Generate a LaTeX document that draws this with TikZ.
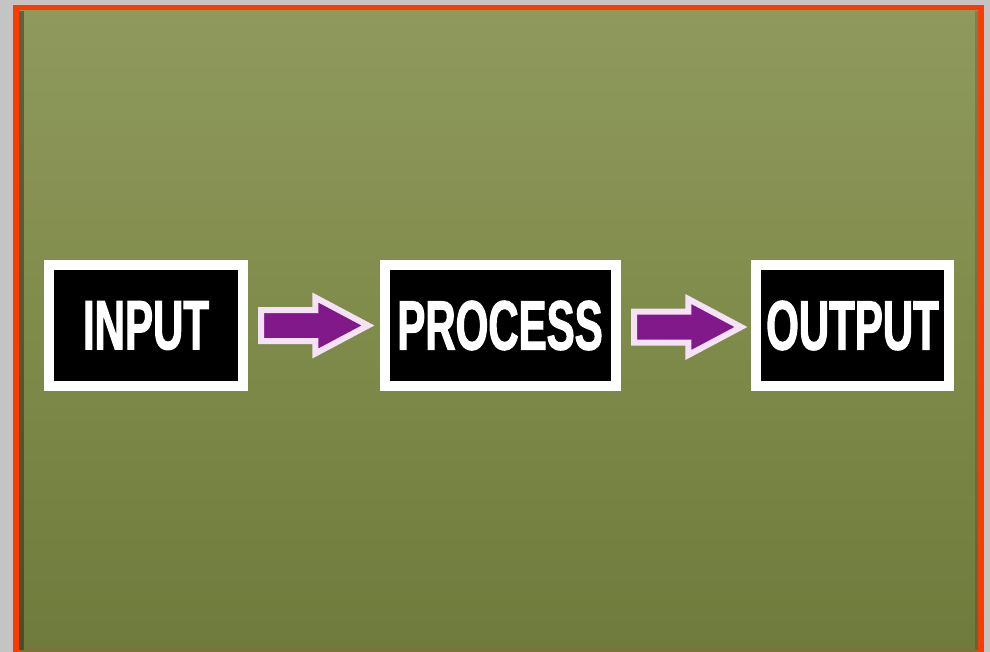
\documentclass[tikz,border=0pt]{standalone}
\usepackage{fontspec}
\setmainfont{Liberation Sans}
\newfontfamily\boxfont[FakeStretch=0.6,FakeBold=1.5]{Liberation Sans}
\usetikzlibrary{shapes.arrows,calc}
\definecolor{pagegray}{HTML}{C4C4C4}
\definecolor{frame}{HTML}{FF3A00}
\definecolor{bgtop}{HTML}{8F995E}
\definecolor{bgmid}{HTML}{7F8B4A}
\definecolor{bgbot}{HTML}{6E7B3C}
\definecolor{arrowpurple}{HTML}{82198A}
\definecolor{arrowpink}{HTML}{F6E2F6}
\tikzset{
  stagebox/.style={rectangle, fill=black, draw=white, line width=10pt, inner sep=0pt,
    minimum height=121pt, text=white, font=\boxfont\bfseries\fontsize{70}{70}\selectfont},
  blockarrow/.style={single arrow, fill=arrowpurple, draw=arrowpink, line width=6pt,
    line join=miter, inner sep=12.5pt, single arrow head extend=12.5pt,
    single arrow tip angle=56, minimum height=107pt, minimum width=0pt, anchor=tail}
}
\begin{document}
\begin{tikzpicture}[x=1pt,y=-1pt]
\useasboundingbox (0,0) rectangle (990,652);
% page and frame
\fill[pagegray] (0,0) rectangle (990,652);
\fill[frame] (13,5) rectangle (984,655);
% green board
\shade[top color=bgtop, bottom color=bgbot, middle color=bgmid] (19,11) rectangle (978,650);
\fill[black, opacity=0.35] (19,11) rectangle (24,650);
\fill[black, opacity=0.15] (975,11) rectangle (978,650);
% stages
\node[stagebox, minimum width=194pt] (in) at (146,325.5) {INPUT};
\node[stagebox, minimum width=231pt] (proc) at (500,325.5) {PROCESS};
\node[stagebox, minimum width=193.5pt] (out) at (852.5,325.5) {OUTPUT};
% arrows
\node[blockarrow] (a1) at ($(in.east)+(10,0)$) {};
\node[blockarrow] (a2) at ($(proc.east)+(10.5,1.5)$) {};
\end{tikzpicture}
\end{document}
